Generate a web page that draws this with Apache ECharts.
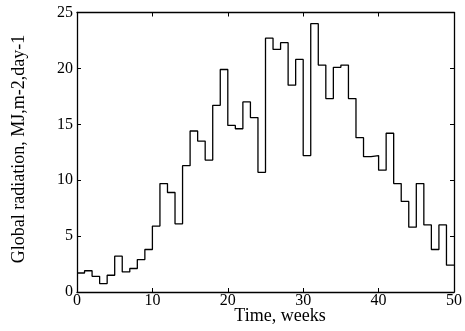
<!DOCTYPE html>
<html><head><meta charset="utf-8">
<script src="https://cdn.jsdelivr.net/npm/echarts@6/dist/echarts.min.js"></script>
<style>html,body{margin:0;padding:0;background:#fff}#c{width:465px;height:331px}</style>
</head><body><div id="c"></div>
<script>
var weeks = [0,1,2,3,4,5,6,7,8,9,10,11,12,13,14,15,16,17,18,19,20,21,22,23,24,25,26,27,28,29,30,31,32,33,34,35,36,37,38,39,40,41,42,43,44,45,46,47,48,49,50];
var radiation = [1.7,1.9,1.4,0.75,1.5,3.2,1.8,2.1,2.9,3.8,5.9,9.7,8.9,6.1,11.3,14.4,13.5,11.8,16.7,19.9,14.9,14.6,17.0,15.6,10.7,22.7,21.7,22.3,18.5,20.8,12.2,24.0,20.3,17.3,20.1,20.3,17.3,13.8,12.1,12.2,10.9,14.2,9.7,8.1,5.8,9.7,6.0,3.8,6.0,2.4,2.4];
var xTicks = [0,10,20,30,40,50];
var yTicks = [0,5,10,15,20,25];

var data = weeks.map(function(w,i){return [w, radiation[i]];});
var font = 'Liberation Serif';
var axLine = {show:true, onZero:false, lineStyle:{color:'#000', width:1.3}};
var axTick = {show:true, inside:true, length:4, lineStyle:{color:'#000', width:1}};
var chart = echarts.init(document.getElementById('c'));
chart.setOption({
  animation:false,
  grid:{left:77, right:9, top:12.5, bottom:39},
  xAxis:[
    {type:'value', min:0, max:50, interval:10, position:'bottom',
     axisLine:axLine, axisTick:axTick, splitLine:{show:false},
     axisLabel:{color:'#000', fontFamily:font, fontSize:16, margin:1}},
    {type:'value', min:0, max:50, interval:10, position:'top',
     axisLine:axLine, axisTick:axTick, splitLine:{show:false}, axisLabel:{show:false}}
  ],
  yAxis:[
    {type:'value', min:0, max:25, interval:5, position:'left',
     axisLine:axLine, axisTick:axTick, splitLine:{show:false},
     axisLabel:{color:'#000', fontFamily:font, fontSize:16, margin:4}},
    {type:'value', min:0, max:25, interval:5, position:'right',
     axisLine:axLine, axisTick:axTick, splitLine:{show:false}, axisLabel:{show:false}}
  ],
  graphic:[
    {type:'text', x:280, y:316, style:{text:'Time, weeks', fill:'#000', font:'18px "Liberation Serif"', textAlign:'center', textVerticalAlign:'middle'}},
    {type:'text', x:19, y:149, rotation:Math.PI/2, style:{text:'Global radiation, MJ,m-2,day-1', fill:'#000', font:'18px "Liberation Serif"', textAlign:'center', textVerticalAlign:'middle'}}
  ],
  series:[{type:'line', step:'end', data:data, showSymbol:false, symbol:'none',
    lineStyle:{color:'#000', width:1.3}}]
});
</script></body></html>
